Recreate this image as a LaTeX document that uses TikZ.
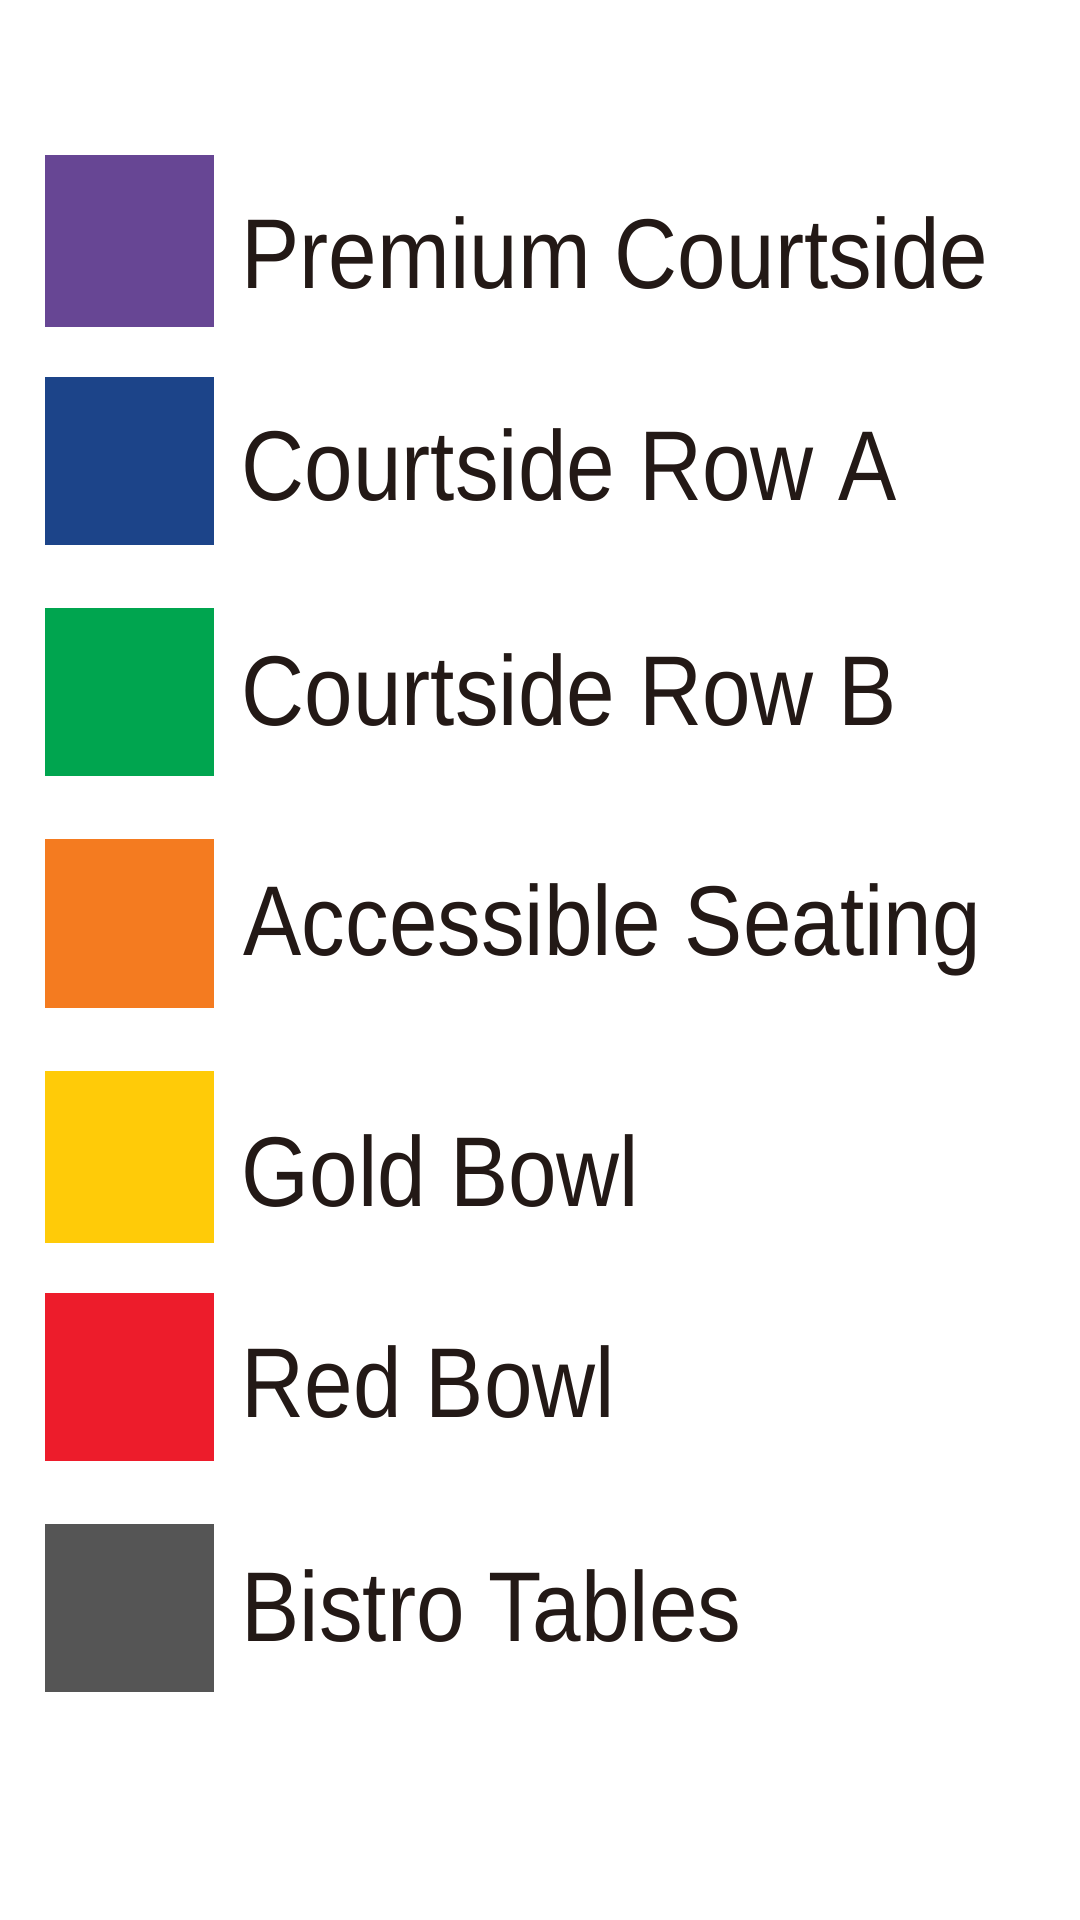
\documentclass[tikz,border=0pt]{standalone}
\usepackage{fontspec}
\setmainfont[FakeStretch=0.88]{Liberation Sans}
\usepackage{xcolor}
\usetikzlibrary{positioning}

\definecolor{premium}{HTML}{674694}
\definecolor{rowa}{HTML}{1C4489}
\definecolor{rowb}{HTML}{00A54F}
\definecolor{access}{HTML}{F47B20}
\definecolor{gold}{HTML}{FFCB08}
\definecolor{redbowl}{HTML}{ED1C2B}
\definecolor{bistro}{HTML}{555555}
\definecolor{labeltext}{HTML}{231916}

\begin{document}
\begin{tikzpicture}[
    x=0.01cm, y=-0.01cm,
    swatch/.style={rectangle, inner sep=0pt, minimum width=1.69cm, minimum height=1.70cm, anchor=north west},
    label/.style={inner sep=0pt, anchor=base west, text=labeltext, font=\fontsize{28.2}{32}\selectfont}
]
\useasboundingbox (0,0) rectangle (1080,1920);

\node[swatch, fill=premium, minimum height=1.72cm] (premium) at (44,154) {};
\node[swatch, fill=rowa, minimum height=1.68cm] (rowa) at (44,376) {};
\node[swatch, fill=rowb, minimum height=1.68cm] (rowb) at (44,607) {};
\node[swatch, fill=access, minimum height=1.69cm] (access) at (44,838) {};
\node[swatch, fill=gold, minimum height=1.72cm] (gold) at (44,1070) {};
\node[swatch, fill=redbowl, minimum height=1.68cm] (redbowl) at (44,1292) {};
\node[swatch, fill=bistro, minimum height=1.68cm] (bistro) at (44,1523) {};

\node[label] (premiumtext) at (241,288) {Premium Courtside};
\node[label] (rowatext) at (241,500) {Courtside Row A};
\node[label] (rowbtext) at (241,725) {Courtside Row B};
\node[label] (accesstext) at (243,955) {Accessible Seating};
\node[label] (goldtext) at (241,1206) {Gold Bowl};
\node[label] (redbowltext) at (241,1417) {Red Bowl};
\node[label] (bistrotext) at (241,1641) {Bistro Tables};

\end{tikzpicture}
\end{document}
